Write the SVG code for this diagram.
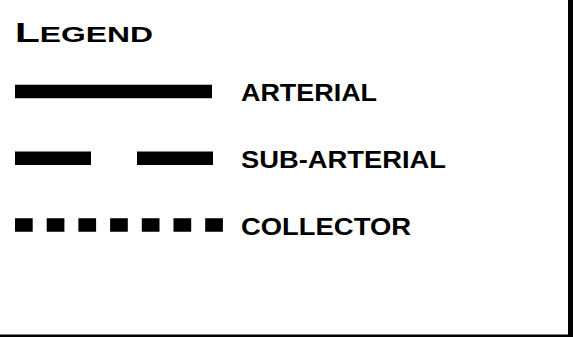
<svg xmlns="http://www.w3.org/2000/svg" width="573" height="337" viewBox="0 0 573 337">
<style>
.lbl{font-family:"Liberation Sans",Arial,sans-serif;font-weight:bold;font-size:23px;fill:#000}
.ln{stroke:#000;stroke-width:13.5;fill:none}
</style>
<rect x="0" y="0" width="573" height="337" fill="#fff"/>
<g id="frame">
<rect x="568" y="0" width="5" height="337" fill="#000"/>
<rect x="0" y="334.5" width="573" height="2.5" fill="#000"/>
</g>
<g id="title">
<text class="lbl" x="15" y="42" textLength="138" lengthAdjust="spacingAndGlyphs"><tspan font-size="28">L</tspan><tspan font-size="22">EGEND</tspan></text>
</g>
<g id="connectors">
<line class="ln" x1="15" y1="91.5" x2="212" y2="91.5"/>
<line class="ln" x1="15" y1="158.3" x2="213" y2="158.3" stroke-dasharray="76 46"/>
<line class="ln" x1="15" y1="225" x2="223" y2="225" stroke-dasharray="17.7 14"/>
</g>
<g id="arterial"><text class="lbl" x="241" y="100.5" textLength="136" lengthAdjust="spacingAndGlyphs">ARTERIAL</text></g>
<g id="sub-arterial"><text class="lbl" x="241" y="167.5" textLength="205" lengthAdjust="spacingAndGlyphs">SUB-ARTERIAL</text></g>
<g id="collector"><text class="lbl" x="241" y="234.5" textLength="170" lengthAdjust="spacingAndGlyphs">COLLECTOR</text></g>
</svg>
